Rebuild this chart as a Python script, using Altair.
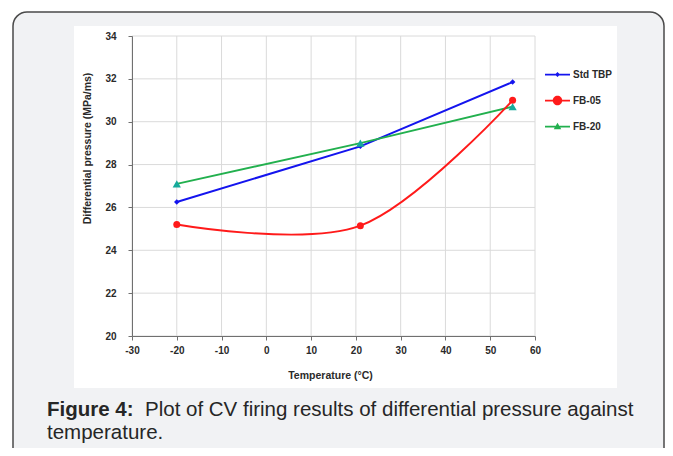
import altair as alt
import pandas as pd

# ---- data ----
temps = [-20, 21, 55]
series_names = ["Std TBP", "FB-05", "FB-20"]
std_tbp = [26.25, 28.85, 31.85]
fb05 = [25.2, 25.15, 31.0]
fb20 = [27.1, 29.0, 30.7]
x_ticks = [-30, -20, -10, 0, 10, 20, 30, 40, 50, 60]
y_ticks = [20, 22, 24, 26, 28, 30, 32, 34]
x_title = "Temperature (\u00b0C)"
y_title = "Differential pressure (MPa/ms)"
caption_bold = "Figure 4:"
caption_line1 = "Plot of CV firing results of differential pressure against"
caption_line2 = "temperature."

line_colors = ["#1414ee", "#ff1a1a", "#22b04e"]
marker_colors = ["#1414ee", "#ff1a1a", "#16aa9c"]
marker_shapes = ["diamond", "circle", "triangle-up"]
marker_sizes = [30, 68, 85]
legend_paths = [
    "M-1,-0.07H1V0.07H-1Z M0,-0.2L0.2,0L0,0.2L-0.2,0Z",
    "M-1,-0.07H1V0.07H-1Z M-0.38,0A0.38,0.38 0 1,1 0.38,0A0.38,0.38 0 1,1 -0.38,0Z",
    "M-1,-0.07H1V0.07H-1Z M0,-0.3L0.3,0.22L-0.3,0.22Z",
]

rows = []
for name, vals in zip(series_names, [std_tbp, fb05, fb20]):
    for t, v in zip(temps, vals):
        rows.append({"series": name, "temp": t, "dp": v})
df = pd.DataFrame(rows)
gx = pd.DataFrame({"temp": x_ticks})
gy = pd.DataFrame({"dp": y_ticks})
one = pd.DataFrame({"k": [1]})

FONT = "Liberation Sans"
xs = alt.Scale(domain=[-30, 60], nice=False, zero=False)
ys = alt.Scale(domain=[20, 34], nice=False, zero=False)

x_axis = alt.Axis(
    values=x_ticks, grid=False, title=x_title, labelExpr="datum.value + ''",
    labelFlush=False, labelOverlap=False,
    labelFont=FONT, labelFontWeight="bold", labelFontSize=10, labelColor="#2a2a2a",
    labelPadding=5, tickSize=4, tickColor="#707070", domainColor="#707070",
    titleFont=FONT, titleFontWeight="bold", titleFontSize=10.5, titleColor="#2a2a2a",
    titleX=198, titleY=39, titleAlign="center", titleBaseline="middle", zindex=2,
)
y_axis = alt.Axis(
    values=y_ticks, grid=False, title=y_title, labelExpr="datum.value + ''",
    labelFlush=False, labelOverlap=False,
    labelFont=FONT, labelFontWeight="bold", labelFontSize=10, labelColor="#2a2a2a",
    labelPadding=12, tickSize=4, tickColor="#707070", domainColor="#707070",
    titleFont=FONT, titleFontWeight="bold", titleFontSize=10.5, titleColor="#2a2a2a",
    titleX=-45, titleY=112, titleAngle=270, titleAlign="center", titleBaseline="middle",
    zindex=2,
)

X = alt.X("temp:Q", scale=xs, axis=x_axis)
Y = alt.Y("dp:Q", scale=ys, axis=y_axis)

bg = alt.Chart(one).mark_rect(
    fill="#f1f2f4", stroke="#4a4a4a", strokeWidth=1.5, cornerRadius=14
).encode(x=alt.value(-119), x2=alt.value(532), y=alt.value(-24), y2=alt.value(440))

panel = alt.Chart(one).mark_rect(fill="white").encode(
    x=alt.value(-58), x2=alt.value(485), y=alt.value(-10), y2=alt.value(352)
)

grid_x = alt.Chart(gx).mark_rule(color="#dadada", strokeWidth=1).encode(x=X)
grid_y = alt.Chart(gy).mark_rule(color="#dadada", strokeWidth=1).encode(y=Y)

color_lines = alt.Color("series:N", scale=alt.Scale(domain=series_names, range=line_colors), legend=None)

lines_linear = alt.Chart(df).transform_filter(
    "datum.series != 'FB-05'"
).mark_line(strokeWidth=2).encode(x=X, y=Y, color=color_lines, detail="series:N")
lines_smooth = alt.Chart(df).transform_filter(
    "datum.series == 'FB-05'"
).mark_line(strokeWidth=2, interpolate="cardinal").encode(x=X, y=Y, color=color_lines)

points = alt.Chart(df).mark_point(filled=True, opacity=1).encode(
    x=X, y=Y,
    color=alt.Color("series:N", scale=alt.Scale(domain=series_names, range=marker_colors), legend=None),
    shape=alt.Shape("series:N", scale=alt.Scale(domain=series_names, range=marker_shapes), legend=None),
    size=alt.Size("series:N", scale=alt.Scale(domain=series_names, range=marker_sizes), legend=None),
)

leg_common = dict(
    title=None, orient="none", legendX=413, legendY=26, padding=0,
    symbolSize=625, symbolStrokeWidth=0, symbolOpacity=1,
    labelFont=FONT, labelFontWeight="bold", labelFontSize=10, labelColor="#2a2a2a",
    labelOffset=3, rowPadding=8,
)
legend_layer = alt.Chart(df).transform_filter("false").mark_point(filled=True, opacity=1).encode(
    x=X, y=Y,
    color=alt.Color("series:N", scale=alt.Scale(domain=series_names, range=line_colors),
                    legend=alt.Legend(**leg_common)),
    shape=alt.Shape("series:N", scale=alt.Scale(domain=series_names, range=legend_paths),
                    legend=alt.Legend(**leg_common)),
)

cap_style = dict(align="left", baseline="alphabetic", font=FONT, fontSize=20.5, color="#262626")
cap_b = alt.Chart(one).mark_text(fontWeight="bold", **cap_style).encode(
    x=alt.value(-85), y=alt.value(380), text=alt.value(caption_bold))
cap_1 = alt.Chart(one).mark_text(**cap_style).encode(
    x=alt.value(13), y=alt.value(380), text=alt.value(caption_line1))
cap_2 = alt.Chart(one).mark_text(**cap_style).encode(
    x=alt.value(-85), y=alt.value(403), text=alt.value(caption_line2))

chart = alt.layer(
    bg, panel, grid_x, grid_y, lines_linear, lines_smooth, points, legend_layer,
    cap_b, cap_1, cap_2,
).resolve_scale(
    color="independent", shape="independent", size="independent"
).properties(
    width=403, height=300,
    autosize=alt.AutoSizeParams(type="none"),
    padding={"left": 124, "top": 28, "right": 130, "bottom": 112},
    background="white",
).configure_view(stroke=None)

chart.save("out.html", embed_options={"renderer": "svg", "actions": False})
